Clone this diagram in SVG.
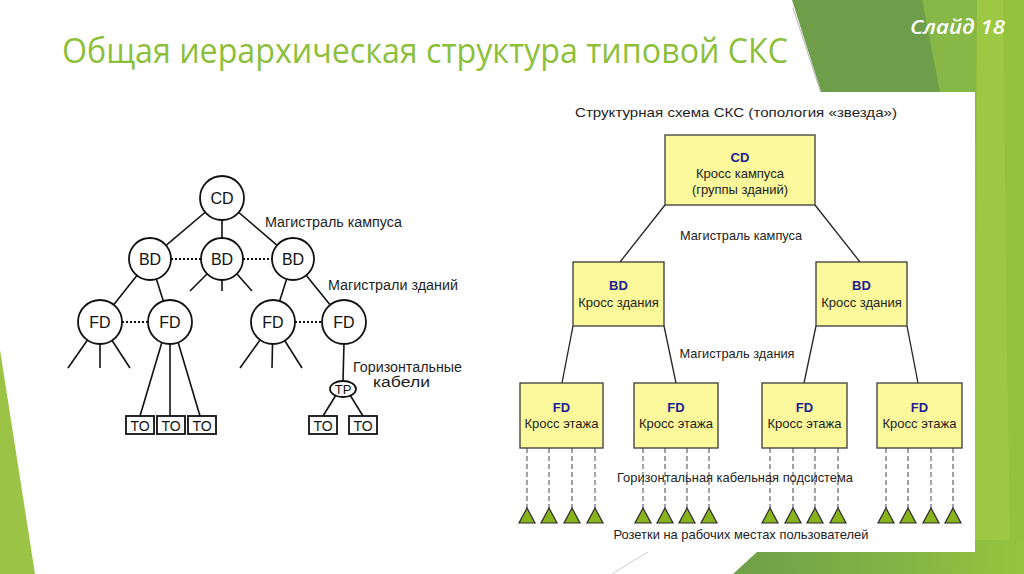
<svg xmlns="http://www.w3.org/2000/svg" width="1024" height="574" viewBox="0 0 1024 574">
<defs>
<style>
.t{font-family:"Liberation Sans",Arial,sans-serif;fill:#1e1e1e}
.ln{stroke:#111;stroke-width:1.6;fill:none}
.dot{stroke:#111;stroke-width:2;stroke-dasharray:2 2;fill:none}
.cir{stroke:#111;stroke-width:1.8;fill:#fff}
.nt{font-family:"Liberation Sans",Arial,sans-serif;font-size:16px;fill:#111;text-anchor:middle}
.box{fill:#fbf99c;stroke:#3a3a3a;stroke-width:1.3}
.bl{font-family:"Liberation Sans",Arial,sans-serif;font-size:13px;font-weight:bold;fill:#1c1c96;text-anchor:middle}
.bt{font-family:"Liberation Sans",Arial,sans-serif;font-size:13px;fill:#222;text-anchor:middle}
.rl{stroke:#222;stroke-width:1.3;fill:none}
.dash{stroke:#666;stroke-width:1.2;stroke-dasharray:5 3;fill:none}
.tri{fill:#88b31c;stroke:#2a2a2a;stroke-width:1.2}
</style>
<linearGradient id="gb" x1="0" y1="0" x2="1" y2="0">
<stop offset="0" stop-color="#6f9f48"/>
<stop offset="0.6" stop-color="#84b545"/>
<stop offset="1" stop-color="#97c43d"/>
</linearGradient>
</defs>
<rect width="1024" height="574" fill="#fff"/>
<!-- background decorations -->
<polygon points="0,350 35,574 0,574" fill="#9bc446"/>
<polygon points="930,0 1024,0 1024,574 960,574" fill="#94c23d"/>
<polygon points="792,0 935,0 975,250 975,574 830,120" fill="#6f9e4b"/>
<polygon points="922,0 977,0 975,200 940,92" fill="#86b747"/>
<polygon points="977,0 1003,0 1010,574 975,574" fill="#9cc843"/>
<polygon points="733,574 770,540 1024,540 1024,574" fill="url(#gb)"/>
<line x1="793" y1="8" x2="822" y2="96" stroke="#b5b5b5" stroke-width="1"/>
<line x1="612" y1="574" x2="656" y2="547" stroke="#cfcfcf" stroke-width="1"/>
<rect x="555" y="92" width="420" height="460" fill="#fff"/>
<!-- title -->
<text x="62" y="63" font-family="'Open Sans','Noto Sans',sans-serif" font-size="35" fill="#8dbf3b" textLength="726" lengthAdjust="spacingAndGlyphs">Общая иерархическая структура типовой СКС</text>
<text x="910" y="34" font-family="'Open Sans','Noto Sans',sans-serif" font-size="20" font-style="italic" font-weight="600" fill="#fff" textLength="95" lengthAdjust="spacingAndGlyphs">Слайд 18</text>

<!-- LEFT TREE: connectors -->
<g id="left-connectors">
<line class="ln" x1="222" y1="198" x2="150" y2="259"/>
<line class="ln" x1="222" y1="198" x2="222" y2="259"/>
<line class="ln" x1="222" y1="198" x2="293" y2="259"/>
<line class="ln" x1="150" y1="259" x2="100" y2="322"/>
<line class="ln" x1="150" y1="259" x2="170" y2="322"/>
<line class="ln" x1="293" y1="259" x2="273" y2="322"/>
<line class="ln" x1="293" y1="259" x2="344" y2="322"/>
<line class="dot" x1="171" y1="259" x2="201" y2="259"/>
<line class="dot" x1="243" y1="259" x2="272" y2="259"/>
<line class="dot" x1="122" y1="322" x2="148" y2="322"/>
<line class="dot" x1="295" y1="322" x2="322" y2="322"/>
<line class="ln" x1="207" y1="274" x2="190" y2="291"/>
<line class="ln" x1="222" y1="279" x2="222" y2="291"/>
<line class="ln" x1="237" y1="274" x2="252" y2="291"/>
<line class="ln" x1="100" y1="322" x2="68" y2="368"/>
<line class="ln" x1="100" y1="322" x2="100" y2="368"/>
<line class="ln" x1="100" y1="322" x2="130" y2="368"/>
<line class="ln" x1="273" y1="322" x2="240" y2="368"/>
<line class="ln" x1="273" y1="322" x2="272" y2="368"/>
<line class="ln" x1="273" y1="322" x2="302" y2="368"/>
<line class="ln" x1="162" y1="342" x2="140" y2="416"/>
<line class="ln" x1="170" y1="343" x2="170" y2="416"/>
<line class="ln" x1="178" y1="342" x2="200" y2="416"/>
<line class="ln" x1="344" y1="343" x2="343" y2="381"/>
<line class="ln" x1="336" y1="395" x2="323" y2="416"/>
<line class="ln" x1="350" y1="395" x2="363" y2="416"/>
</g>
<g id="l-cd"><circle class="cir" cx="222" cy="198" r="22"/><text class="nt" x="222" y="204">CD</text></g>
<g id="l-bd1"><circle class="cir" cx="150" cy="259" r="21"/><text class="nt" x="150" y="265">BD</text></g>
<g id="l-bd2"><circle class="cir" cx="222" cy="259" r="21"/><text class="nt" x="222" y="265">BD</text></g>
<g id="l-bd3"><circle class="cir" cx="293" cy="259" r="21"/><text class="nt" x="293" y="265">BD</text></g>
<g id="l-fd1"><circle class="cir" cx="100" cy="322" r="22"/><text class="nt" x="100" y="328">FD</text></g>
<g id="l-fd2"><circle class="cir" cx="170" cy="322" r="22"/><text class="nt" x="170" y="328">FD</text></g>
<g id="l-fd3"><circle class="cir" cx="273" cy="322" r="22"/><text class="nt" x="273" y="328">FD</text></g>
<g id="l-fd4"><circle class="cir" cx="344" cy="322" r="22"/><text class="nt" x="344" y="328">FD</text></g>
<g id="l-tp"><ellipse class="cir" cx="343" cy="389" rx="13" ry="8"/><text class="nt" x="343" y="394" style="font-size:13px">TP</text></g>
<g id="l-to1"><rect class="cir" x="126" y="416" width="28" height="18"/><text class="nt" x="140" y="431" style="font-size:14px">TO</text></g>
<g id="l-to2"><rect class="cir" x="157" y="416" width="28" height="18"/><text class="nt" x="171" y="431" style="font-size:14px">TO</text></g>
<g id="l-to3"><rect class="cir" x="188" y="416" width="28" height="18"/><text class="nt" x="202" y="431" style="font-size:14px">TO</text></g>
<g id="l-to4"><rect class="cir" x="309" y="416" width="28" height="18"/><text class="nt" x="323" y="431" style="font-size:14px">TO</text></g>
<g id="l-to5"><rect class="cir" x="349" y="416" width="28" height="18"/><text class="nt" x="363" y="431" style="font-size:14px">TO</text></g>
<g id="l-labels">
<text class="t" x="265" y="227" font-size="14" textLength="137" lengthAdjust="spacingAndGlyphs">Магистраль кампуса</text>
<text class="t" x="328" y="290" font-size="14" textLength="130" lengthAdjust="spacingAndGlyphs">Магистрали зданий</text>
<text class="t" x="353" y="372" font-size="14" textLength="109" lengthAdjust="spacingAndGlyphs">Горизонтальные</text>
<text class="t" x="373" y="387" font-size="14" textLength="57" lengthAdjust="spacingAndGlyphs">кабели</text>
</g>

<!-- RIGHT DIAGRAM -->
<text class="t" x="575" y="117" font-size="13.5" textLength="322" lengthAdjust="spacingAndGlyphs">Структурная схема СКС (топология «звезда»)</text>
<g id="right-connectors">
<line class="rl" x1="665" y1="205" x2="620" y2="262"/>
<line class="rl" x1="815" y1="205" x2="860" y2="262"/>
<line class="rl" x1="573" y1="326" x2="562" y2="383"/>
<line class="rl" x1="664" y1="326" x2="676" y2="383"/>
<line class="rl" x1="816" y1="326" x2="804" y2="383"/>
<line class="rl" x1="907" y1="326" x2="918" y2="383"/>
<g class="dash">
<line x1="527" y1="448" x2="527" y2="508"/><line x1="549" y1="448" x2="549" y2="508"/><line x1="572" y1="448" x2="572" y2="508"/><line x1="595" y1="448" x2="595" y2="508"/>
<line x1="643" y1="448" x2="643" y2="508"/><line x1="665" y1="448" x2="665" y2="508"/><line x1="687" y1="448" x2="687" y2="508"/><line x1="709" y1="448" x2="709" y2="508"/>
<line x1="770" y1="448" x2="770" y2="508"/><line x1="793" y1="448" x2="793" y2="508"/><line x1="815" y1="448" x2="815" y2="508"/><line x1="838" y1="448" x2="838" y2="508"/>
<line x1="886" y1="448" x2="886" y2="508"/><line x1="908" y1="448" x2="908" y2="508"/><line x1="931" y1="448" x2="931" y2="508"/><line x1="953" y1="448" x2="953" y2="508"/>
</g>
</g>
<g id="r-cd"><rect class="box" x="665" y="135" width="150" height="70"/>
<text class="bl" x="740" y="162">CD</text><text class="bt" x="740" y="178">Кросс кампуса</text><text class="bt" x="740" y="194">(группы зданий)</text></g>
<g id="r-bd1"><rect class="box" x="573" y="262" width="91" height="64"/>
<text class="bl" x="618.5" y="290">BD</text><text class="bt" x="618.5" y="307">Кросс здания</text></g>
<g id="r-bd2"><rect class="box" x="816" y="262" width="91" height="64"/>
<text class="bl" x="861.5" y="290">BD</text><text class="bt" x="861.5" y="307">Кросс здания</text></g>
<g id="r-fd1"><rect class="box" x="520" y="383" width="83" height="65"/>
<text class="bl" x="561.5" y="412">FD</text><text class="bt" x="561.5" y="428">Кросс этажа</text></g>
<g id="r-fd2"><rect class="box" x="634" y="383" width="84" height="65"/>
<text class="bl" x="676" y="412">FD</text><text class="bt" x="676" y="428">Кросс этажа</text></g>
<g id="r-fd3"><rect class="box" x="762" y="383" width="85" height="65"/>
<text class="bl" x="804.5" y="412">FD</text><text class="bt" x="804.5" y="428">Кросс этажа</text></g>
<g id="r-fd4"><rect class="box" x="877" y="383" width="85" height="65"/>
<text class="bl" x="919.5" y="412">FD</text><text class="bt" x="919.5" y="428">Кросс этажа</text></g>
<g id="r-outlets">
<polygon class="tri" points="527,508 519,523 535,523"/><polygon class="tri" points="549,508 541,523 557,523"/><polygon class="tri" points="572,508 564,523 580,523"/><polygon class="tri" points="595,508 587,523 603,523"/>
<polygon class="tri" points="643,508 635,523 651,523"/><polygon class="tri" points="665,508 657,523 673,523"/><polygon class="tri" points="687,508 679,523 695,523"/><polygon class="tri" points="709,508 701,523 717,523"/>
<polygon class="tri" points="770,508 762,523 778,523"/><polygon class="tri" points="793,508 785,523 801,523"/><polygon class="tri" points="815,508 807,523 823,523"/><polygon class="tri" points="838,508 830,523 846,523"/>
<polygon class="tri" points="886,508 878,523 894,523"/><polygon class="tri" points="908,508 900,523 916,523"/><polygon class="tri" points="931,508 923,523 939,523"/><polygon class="tri" points="953,508 945,523 961,523"/>
</g>
<g id="r-labels">
<text class="bt" x="741" y="240" textLength="122" lengthAdjust="spacingAndGlyphs">Магистраль кампуса</text>
<text class="bt" x="737" y="358" textLength="115" lengthAdjust="spacingAndGlyphs">Магистраль здания</text>
<text class="bt" x="735" y="482" textLength="236" lengthAdjust="spacingAndGlyphs">Горизонтальная кабельная подсистема</text>
<text class="bt" x="741" y="539" textLength="255" lengthAdjust="spacingAndGlyphs">Розетки на рабочих местах пользователей</text>
</g>
</svg>
